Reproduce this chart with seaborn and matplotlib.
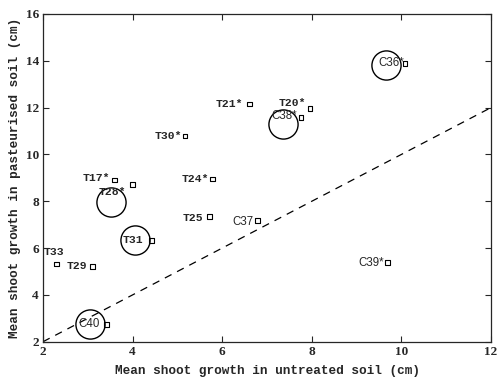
import numpy as np
import pandas as pd
import matplotlib
matplotlib.use("Agg")
import matplotlib.pyplot as plt
from matplotlib.transforms import ScaledTranslation
import seaborn as sns

# Data
labels = ["T21*", "T20*", "C38*", "C36*", "T30*", "T24*", "T17*", "T28*",
          "T25", "C37", "T31", "T33", "T29", "C40", "C39*"]
untreated = [6.60, 7.96, 7.76, 10.08, 5.17, 5.78, 3.59, 3.99,
             5.71, 6.78, 4.43, 2.31, 3.10, 3.42, 9.69]
pasteurised = [12.15, 11.97, 11.59, 13.90, 10.79, 8.95, 8.91, 8.72,
               7.34, 7.17, 6.34, 5.32, 5.22, 2.74, 5.37]
circled = ["C38*", "C36*", "T28*", "T31", "C40"]

df = pd.DataFrame({"label": labels, "x": untreated, "y": pasteurised})

# label placement, pixel offsets from the marker: (dx, dy, ha)
text_pos = {
    "T21*": (-6, 0, "right"), "T20*": (-4, 5, "right"), "C38*": (-17, 1, "center"),
    "C36*": (-14, 0, "center"), "T30*": (-3, 0, "right"), "T24*": (-3, 0, "right"),
    "T17*": (-4, 2, "right"), "T28*": (-6, -8, "right"), "T25": (-6, -1, "right"),
    "C37": (-4, -1, "right"), "T31": (-19, 0, "center"), "T33": (-3, 12, "center"),
    "T29": (-5, 0, "right"), "C40": (-18, 0, "center"), "C39*": (-4, 0, "right"),
}
circle_pos = {"C38*": (-18, -7), "C36*": (-19, -2), "T28*": (-21, -18),
              "T31": (-17, 0), "C40": (-17, 0)}

sns.set_style("ticks")
plt.rcParams["font.family"] = ["Liberation Serif", "DejaVu Serif"]

fig, ax = plt.subplots(figsize=(4.99, 3.77), dpi=100)
fig.subplots_adjust(left=0.0862, right=0.984, top=0.963, bottom=0.0936)

# y = x reference line
ax.plot([2, 12], [2, 12], color="black", lw=0.9, ls=(0, (6, 5)))

sns.scatterplot(data=df, x="x", y="y", marker="s", s=12, facecolor="none",
                edgecolor="black", linewidth=0.8, ax=ax, zorder=3)

px = 0.72  # points per pixel at 100 dpi
for lab, xv, yv in zip(labels, untreated, pasteurised):
    dx, dy, ha = text_pos[lab]
    if lab.startswith("C"):
        fkw = dict(family="Liberation Sans", fontsize=8.3)
    else:
        fkw = dict(family="Liberation Mono", fontsize=8.2, fontweight="bold")
    ax.annotate(lab, (xv, yv), xytext=(dx * px, dy * px), textcoords="offset points",
                ha=ha, va="center", zorder=4, **fkw)
    if lab in circled:
        cdx, cdy = circle_pos[lab]
        shift = ScaledTranslation(cdx / 100, cdy / 100, fig.dpi_scale_trans)
        ax.plot([xv], [yv], marker="o", ms=21, mfc="none", mec="black", mew=1.0,
                transform=ax.transData + shift, zorder=2)

ax.set_xlim(2, 12)
ax.set_ylim(2, 16)
ax.set_xticks(np.arange(2, 13, 2))
ax.set_yticks(np.arange(2, 17, 2))
ax.tick_params(direction="in", length=4, width=0.8, top=True, right=True,
               labelsize=9.5, pad=3)
for t in ax.get_xticklabels() + ax.get_yticklabels():
    t.set_fontweight("bold")
for s in ax.spines.values():
    s.set_linewidth(0.9)

ax.set_xlabel("Mean shoot growth in untreated soil (cm)", family="Liberation Mono",
              fontsize=9.2, fontweight="bold", labelpad=5)
ax.set_ylabel("Mean shoot growth in pasteurised soil (cm)", family="Liberation Mono",
              fontsize=9.2, fontweight="bold", labelpad=3)

fig.savefig("out.png", dpi=100)
